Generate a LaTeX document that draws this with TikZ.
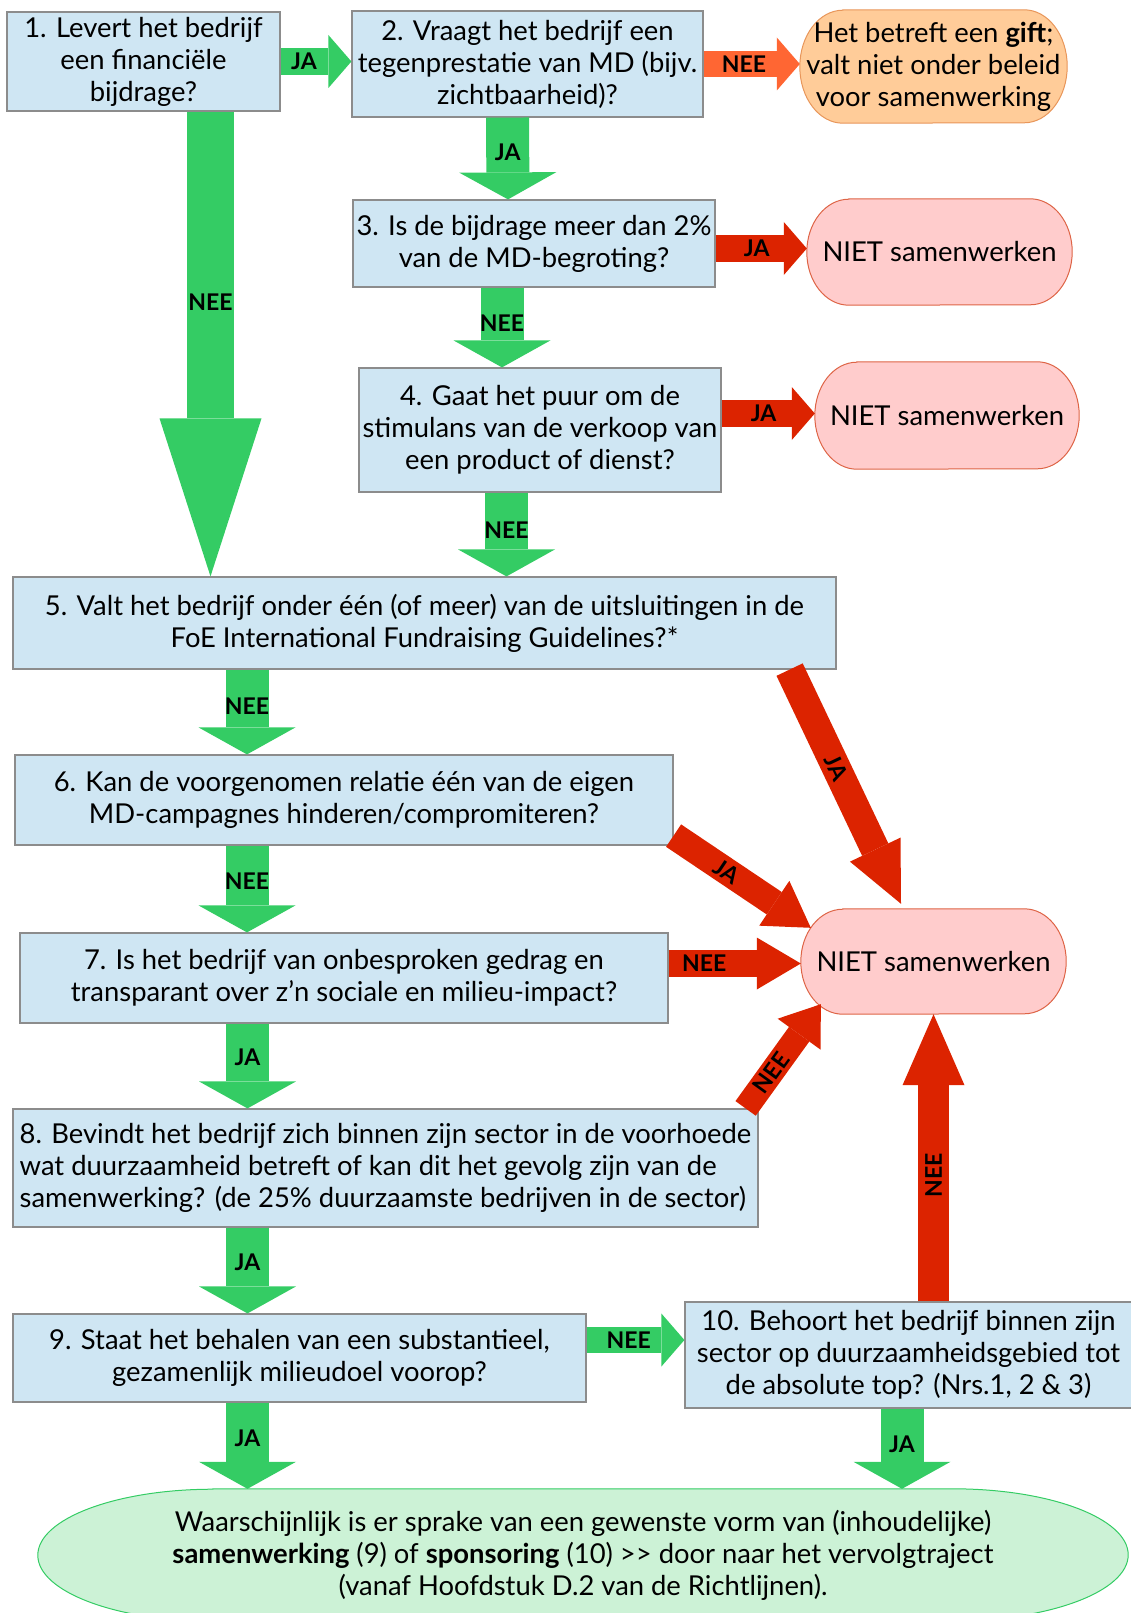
\documentclass[tikz,border=0pt]{standalone}
\usepackage{fontspec}
\setmainfont{Lato}
\usepackage{tikz}
\usetikzlibrary{positioning,arrows.meta,calc,backgrounds}

\definecolor{qfill}{RGB}{207,230,243}
\definecolor{qline}{RGB}{140,140,140}
\definecolor{jagreen}{RGB}{52,204,100}
\definecolor{neered}{RGB}{220,35,0}
\definecolor{giftarrow}{RGB}{255,102,51}
\definecolor{giftfill}{RGB}{255,204,153}
\definecolor{giftline}{RGB}{232,150,90}
\definecolor{nietfill}{RGB}{255,204,204}
\definecolor{nietline}{RGB}{222,100,70}
\definecolor{endfill}{RGB}{204,242,214}

\tikzstyle{qbox} = [rectangle, draw=qline, line width=1.2pt, fill=qfill, align=center, inner sep=2pt]
\tikzstyle{term} = [rectangle, align=center, inner sep=2pt]

% outline with elliptical ends round a node: name, x radius, y radius, style
\newcommand\termline[4]{%
	\path[#4] ([xshift=#2]#1.north west) -- ([xshift=-#2]#1.north east)
	arc[start angle=90, end angle=-90, x radius=#2, y radius=#3]
	-- ([xshift=#2]#1.south west)
	arc[start angle=270, end angle=90, x radius=#2, y radius=#3] -- cycle;}

\begin{document}
\begin{tikzpicture}[x=1pt, y=-1pt,
				every node/.style={font=\fontsize{27.4}{32}\selectfont},
				blockarrow/.style n args={4}{draw=#1, line width=#2,
					-{Triangle[length=#3, width=#4, line width=0pt]}},
				downarrow/.style={blockarrow={jagreen}{43pt}{27pt}{97pt}},
				sidearrow/.style={blockarrow={#1}{26.5pt}{23pt}{53pt}},
				lbl/.style={font=\fontsize{23}{28}\selectfont\bfseries, inner sep=0pt},
				]
				\useasboundingbox (0,0) rectangle (1130,1613);
				% questions and outcomes
				\node[qbox, minimum width=273pt, minimum height=99pt] (q1) at (143.5,61.5)
				{1. Levert het bedrijf\\ een financiële\\ bijdrage?};
				\node[qbox, minimum width=351pt, minimum height=106pt] (q2) at (527.5,64)
				{2. Vraagt het bedrijf een\\ tegenprestatie van MD (bijv.\\ zichtbaarheid)?};
				\node[term, minimum width=267pt, minimum height=113pt] (gift) at (933.5,66.5)
				{Het betreft een \textbf{gift};\\ valt niet onder beleid\\ voor samenwerking};
				\node[qbox, minimum width=362pt, minimum height=87pt] (q3) at (534,243.5)
				{3. Is de bijdrage meer dan 2\%\\ van de MD-begroting?};
				\node[term, minimum width=265pt, minimum height=106pt] (niet1) at (939.5,252) {NIET samenwerken};
				\node[qbox, minimum width=362pt, minimum height=124pt] (q4) at (540,430)
				{4. Gaat het puur om de\\ stimulans van de verkoop van\\ een product of dienst?};
				\node[term, minimum width=264pt, minimum height=107pt] (niet2) at (947,415.5) {NIET samenwerken};
				\node[qbox, minimum width=823pt, minimum height=92pt] (q5) at (424.5,623)
				{5. Valt het bedrijf onder één (of meer) van de uitsluitingen in de\\ FoE International Fundraising Guidelines?*};
				\node[qbox, minimum width=658pt, minimum height=90pt] (q6) at (344,800)
				{6. Kan de voorgenomen relatie één van de eigen\\ MD-campagnes hinderen/compromiteren?};
				\node[term, minimum width=265pt, minimum height=105pt] (niet3) at (933.5,961.5) {NIET samenwerken};
				\node[qbox, minimum width=648pt, minimum height=90pt] (q7) at (344,978)
				{7. Is het bedrijf van onbesproken gedrag en\\ transparant over z'n sociale en milieu-impact?};
				\node[qbox, minimum width=745pt, minimum height=118pt, align=left] (q8) at (385.5,1168)
				{8. Bevindt het bedrijf zich binnen zijn sector in de voorhoede\\ wat duurzaamheid betreft of kan dit het gevolg zijn van de\\ samenwerking? (de 25\% duurzaamste bedrijven in de sector)};
				\node[qbox, minimum width=573pt, minimum height=88pt] (q9) at (299.5,1358)
				{9. Staat het behalen van een substantieel,\\ gezamenlijk milieudoel voorop?};
				\node[qbox, minimum width=447pt, minimum height=106pt] (q10) at (908.5,1355)
				{10. Behoort het bedrijf binnen zijn\\ sector op duurzaamheidsgebied tot\\ de absolute top? (Nrs.1, 2 \& 3)};
				\node[term, minimum width=1090pt, minimum height=132pt] (vervolg) at (583,1555)
				{Waarschijnlijk is er sprake van een gewenste vorm van (inhoudelijke)\\ \textbf{samenwerking} (9) of \textbf{sponsoring} (10) >{}> door naar het vervolgtraject\\ (vanaf Hoofdstuk D.2 van de Richtlijnen).};
				\begin{scope}[on background layer]
					\termline{gift}{43pt}{56.5pt}{draw=giftline, line width=1pt, fill=giftfill}
					\termline{niet1}{42pt}{53pt}{draw=nietline, line width=1pt, fill=nietfill}
					\termline{niet2}{42pt}{53.5pt}{draw=nietline, line width=1pt, fill=nietfill}
					\termline{niet3}{42pt}{52.5pt}{draw=nietline, line width=1pt, fill=nietfill}
					\termline{vervolg}{175pt}{66pt}{draw=jagreen, line width=1pt, fill=endfill}
				\end{scope}
				% JA / NEE arrows
				\draw[sidearrow=jagreen] (q1.east) -- (q1.east -| q2.west) node[lbl, pos=0.33] {JA};
				\draw[sidearrow=giftarrow] (q2.east) -- (q2.east -| gift.west) node[lbl, pos=0.42] {NEE};
				\draw[downarrow] ([xshift=-20pt]q2.south) -- ([xshift=-26pt]q3.north) node[lbl, pos=0.43] {JA};
				\draw[sidearrow=neered] ([yshift=-5pt]q3.east) -- ([yshift=-5pt]q3.east -| niet1.west) node[lbl, pos=0.45] {JA};
				\draw[downarrow] ([xshift=-32pt]q3.south) -- ([xshift=-38pt]q4.north) node[lbl, pos=0.45] {NEE};
				\draw[sidearrow=neered] ([yshift=16.5pt]q4.east) -- ([yshift=16.5pt]q4.east -| niet2.west) node[lbl, pos=0.45] {JA};
				\draw[downarrow] ([xshift=-33.5pt]q4.south) -- ([xshift=82pt]q5.north) node[lbl, pos=0.45] {NEE};
				\draw[blockarrow={jagreen}{47pt}{158pt}{102pt}] ([xshift=67pt]q1.south) -- ([xshift=-214pt]q5.north) node[lbl, pos=0.41] {NEE};
				\draw[downarrow] ([xshift=-177.5pt]q5.south) -- ([xshift=-97pt]q6.north) node[lbl, pos=0.43] {NEE};
				\draw[downarrow] ([xshift=-97pt]q6.south) -- ([xshift=-97pt]q7.north) node[lbl, pos=0.41] {NEE};
				\draw[downarrow] ([xshift=-96.5pt]q7.south) -- ([xshift=-138pt]q8.north) node[lbl, pos=0.4] {JA};
				\draw[downarrow] ([xshift=-138pt]q8.south) -- ([xshift=-52pt]q9.north) node[lbl, pos=0.4] {JA};
				\draw[sidearrow=jagreen] ([yshift=18pt]q9.east) -- ([yshift=18pt]q9.east -| q10.west) node[lbl, pos=0.43] {NEE};
				\draw[downarrow] ([xshift=-52pt]q9.south) -- ([xshift=-335.5pt]vervolg.north) node[lbl, pos=0.41] {JA};
				\draw[downarrow] ([xshift=-6.5pt]q10.south) -- ([xshift=319pt]vervolg.north) node[lbl, pos=0.44] {JA};
				% everything into NIET samenwerken
				\draw[blockarrow={neered}{29pt}{60pt}{56pt}] ([xshift=-47pt]q5.south east) -- ([xshift=-32.5pt,yshift=5pt]niet3.north) node[lbl, sloped, pos=0.42] {JA};
				\draw[blockarrow={neered}{27pt}{44pt}{54pt}] ([yshift=10pt]q6.south east) -- ([xshift=10pt,yshift=-19pt]niet3.north west) node[lbl, sloped, pos=0.39] {JA};
				\draw[blockarrow={neered}{27pt}{44pt}{52pt}] ([yshift=14.5pt]q7.east) -- ([yshift=14.5pt]q7.east -| niet3.west) node[lbl, pos=0.27] {NEE};
				\draw[blockarrow={neered}{25pt}{37pt}{53pt}] ([xshift=-13pt]q8.north east) -- ([xshift=20pt,yshift=10pt]niet3.south west) node[lbl, sloped, pos=0.34] {NEE};
				\draw[blockarrow={neered}{31pt}{71pt}{62pt}] (niet3.south |- q10.north) -- (niet3.south) node[lbl, sloped, pos=0.44] {NEE};
\end{tikzpicture}
\end{document}
